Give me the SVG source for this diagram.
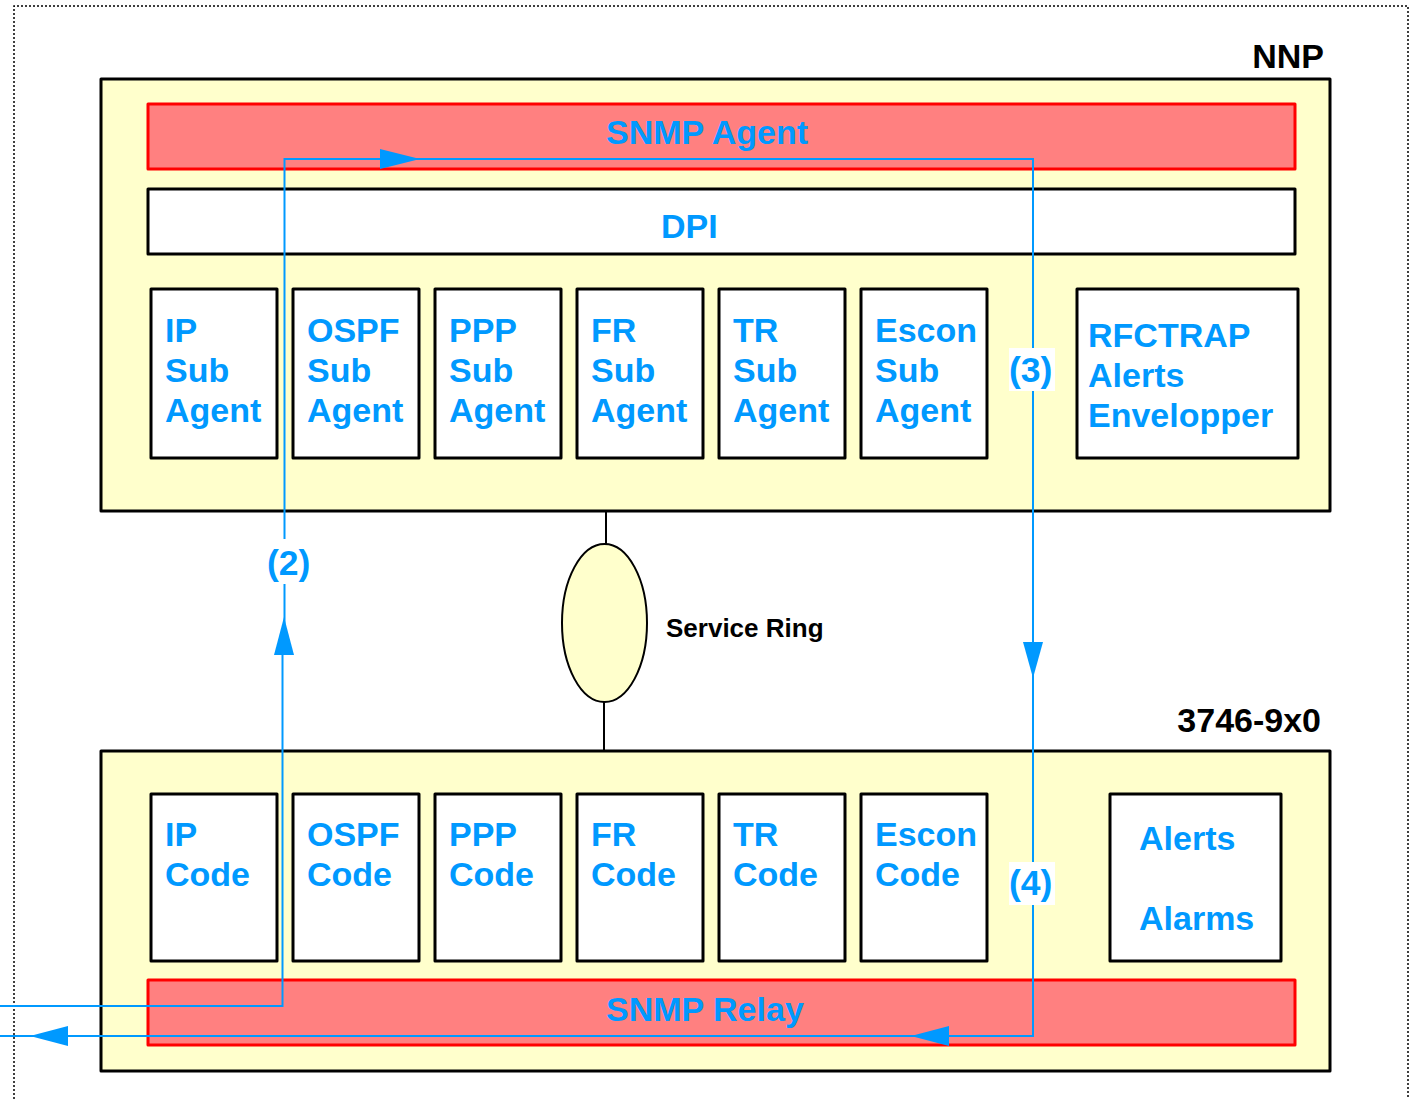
<svg xmlns="http://www.w3.org/2000/svg" width="1411" height="1099" viewBox="0 0 1411 1099">
<style>
  .frame{fill:none;stroke:#000;stroke-width:1.5;stroke-dasharray:2 2}
  .host{fill:#FFFFCC;stroke:#000;stroke-width:3;stroke-linejoin:round}
  .snmp{fill:#FF8080;stroke:#FF0000;stroke-width:3;stroke-linejoin:round}
  .box{fill:#FFFFFF;stroke:#000;stroke-width:3;stroke-linejoin:round}
  .t{font-family:"Liberation Sans",Arial,sans-serif;font-weight:bold;font-size:34px;fill:#0099FF}
  .lbl{font-family:"Liberation Sans",Arial,sans-serif;font-weight:bold;font-size:35.5px;fill:#0099FF}
  .k{font-family:"Liberation Sans",Arial,sans-serif;font-weight:bold;fill:#000}
  .flow{fill:none;stroke:#0099FF;stroke-width:2}
  .head{fill:#0099FF;stroke:none}
  .ring{fill:#FFFFCC;stroke:#000;stroke-width:2}
  .wire{stroke:#000;stroke-width:2}
  .lbg{fill:#FFFFFF}
</style>

<path class="frame" d="M14,1099 V6 H1408 V1099"/>

<g id="nnp">
  <rect class="host" x="101" y="79" width="1229" height="432"/>
  <text class="k" x="1324" y="68" font-size="34" text-anchor="end">NNP</text>
</g>
<g id="snmp-agent">
  <rect class="snmp" x="148" y="104" width="1147" height="65"/>
  <text class="t" x="606" y="144">SNMP Agent</text>
</g>
<g id="dpi">
  <rect class="box" x="148" y="189" width="1147" height="65"/>
  <text class="t" x="661" y="238">DPI</text>
</g>
<g id="ip-sub-agent">
  <rect class="box" x="151" y="289" width="126" height="169"/>
  <text class="t" x="165" y="342">IP</text><text class="t" x="165" y="382">Sub</text><text class="t" x="165" y="422">Agent</text>
</g>
<g id="ospf-sub-agent">
  <rect class="box" x="293" y="289" width="126" height="169"/>
  <text class="t" x="307" y="342">OSPF</text><text class="t" x="307" y="382">Sub</text><text class="t" x="307" y="422">Agent</text>
</g>
<g id="ppp-sub-agent">
  <rect class="box" x="435" y="289" width="126" height="169"/>
  <text class="t" x="449" y="342">PPP</text><text class="t" x="449" y="382">Sub</text><text class="t" x="449" y="422">Agent</text>
</g>
<g id="fr-sub-agent">
  <rect class="box" x="577" y="289" width="126" height="169"/>
  <text class="t" x="591" y="342">FR</text><text class="t" x="591" y="382">Sub</text><text class="t" x="591" y="422">Agent</text>
</g>
<g id="tr-sub-agent">
  <rect class="box" x="719" y="289" width="126" height="169"/>
  <text class="t" x="733" y="342">TR</text><text class="t" x="733" y="382">Sub</text><text class="t" x="733" y="422">Agent</text>
</g>
<g id="escon-sub-agent">
  <rect class="box" x="861" y="289" width="126" height="169"/>
  <text class="t" x="875" y="342">Escon</text><text class="t" x="875" y="382">Sub</text><text class="t" x="875" y="422">Agent</text>
</g>
<g id="rfctrap">
  <rect class="box" x="1077" y="289" width="221" height="169"/>
  <text class="t" x="1088" y="347">RFCTRAP</text><text class="t" x="1088" y="387">Alerts</text><text class="t" x="1088" y="427">Envelopper</text>
</g>

<g id="service-ring">
  <line class="wire" x1="606" y1="511" x2="606" y2="544"/>
  <line class="wire" x1="604" y1="702" x2="604" y2="751"/>
  <ellipse class="ring" cx="604.5" cy="623" rx="42.5" ry="79"/>
  <text class="k" x="666" y="637" font-size="26">Service Ring</text>
</g>

<g id="host-3746">
  <rect class="host" x="101" y="751" width="1229" height="320"/>
  <text class="k" x="1321" y="732" font-size="34" text-anchor="end">3746-9x0</text>
</g>
<g id="ip-code">
  <rect class="box" x="151" y="794" width="126" height="167"/>
  <text class="t" x="165" y="846">IP</text><text class="t" x="165" y="886">Code</text>
</g>
<g id="ospf-code">
  <rect class="box" x="293" y="794" width="126" height="167"/>
  <text class="t" x="307" y="846">OSPF</text><text class="t" x="307" y="886">Code</text>
</g>
<g id="ppp-code">
  <rect class="box" x="435" y="794" width="126" height="167"/>
  <text class="t" x="449" y="846">PPP</text><text class="t" x="449" y="886">Code</text>
</g>
<g id="fr-code">
  <rect class="box" x="577" y="794" width="126" height="167"/>
  <text class="t" x="591" y="846">FR</text><text class="t" x="591" y="886">Code</text>
</g>
<g id="tr-code">
  <rect class="box" x="719" y="794" width="126" height="167"/>
  <text class="t" x="733" y="846">TR</text><text class="t" x="733" y="886">Code</text>
</g>
<g id="escon-code">
  <rect class="box" x="861" y="794" width="126" height="167"/>
  <text class="t" x="875" y="846">Escon</text><text class="t" x="875" y="886">Code</text>
</g>
<g id="alerts-alarms">
  <rect class="box" x="1110" y="794" width="171" height="167"/>
  <text class="t" x="1139" y="850">Alerts</text><text class="t" x="1139" y="930">Alarms</text>
</g>
<g id="snmp-relay">
  <rect class="snmp" x="148" y="980" width="1147" height="65"/>
  <text class="t" x="606" y="1021">SNMP Relay</text>
</g>

<g id="connectors">
  <path class="flow" d="M0,1006 H282.5 V650"/>
  <path class="flow" d="M284.5,650 V159 H1033 V1036 H0"/>
  <polygon class="head" points="284,617 294,655 274,655"/>
  <polygon class="head" points="420,159 380,149 380,169"/>
  <polygon class="head" points="1033,678 1023,642 1043,642"/>
  <polygon class="head" points="911,1036 949,1026 949,1046"/>
  <polygon class="head" points="30,1036 68,1026 68,1046"/>
  <rect class="lbg" x="266" y="539" width="48" height="45"/>
  <text class="lbl" x="267" y="575">(2)</text>
  <rect class="lbg" x="1009" y="348" width="46" height="43"/>
  <text class="lbl" x="1009" y="382">(3)</text>
  <rect class="lbg" x="1009" y="862" width="46" height="43"/>
  <text class="lbl" x="1009" y="895">(4)</text>
</g>
</svg>
